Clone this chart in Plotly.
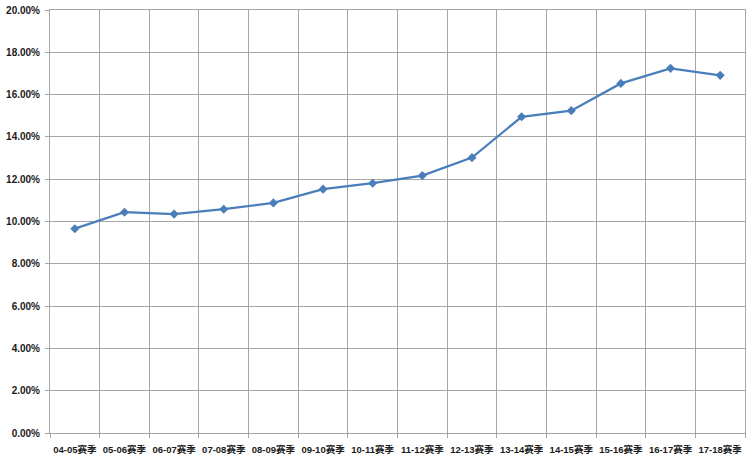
import plotly.graph_objects as go

seasons = ["04-05赛季", "05-06赛季", "06-07赛季", "07-08赛季", "08-09赛季", "09-10赛季",
           "10-11赛季", "11-12赛季", "12-13赛季", "13-14赛季", "14-15赛季", "15-16赛季",
           "16-17赛季", "17-18赛季"]
values = [0.0966, 0.1044, 0.1035, 0.1058, 0.1088, 0.1153, 0.1181, 0.1217, 0.1302,
          0.1495, 0.1524, 0.1653, 0.1724, 0.1691]
y_ticks = [i * 0.02 for i in range(11)]

fig = go.Figure()
fig.add_trace(go.Scatter(
    x=seasons, y=values, mode="lines+markers",
    line=dict(color="#4A7EBB", width=2.25),
    marker=dict(symbol="diamond", size=7, color="#4A7EBB"),
    showlegend=False,
))

grid = "#A6A6A6"
fig.update_layout(
    width=750, height=464,
    margin=dict(l=50, r=5, t=10, b=31),
    paper_bgcolor="white", plot_bgcolor="white",
    font=dict(family="Liberation Sans, Noto Sans CJK SC", color="#1A1A1A"),
    xaxis=dict(
        type="category", tickson="boundaries", range=[-0.5, 13.5],
        showgrid=True, gridcolor=grid, gridwidth=1,
        showline=True, linecolor=grid, linewidth=1, mirror=True,
        ticks="outside", ticklen=4, tickcolor=grid, tickangle=0,
        automargin=False, ticklabelstandoff=8,
        tickfont=dict(size=9.5, family="Liberation Sans, Noto Sans CJK SC", weight="bold"),
    ),
    yaxis=dict(
        range=[0, 0.2], tickvals=y_ticks, tickformat=".2%",
        showgrid=True, gridcolor=grid, gridwidth=1,
        showline=True, linecolor=grid, linewidth=1, mirror=True,
        ticks="outside", ticklen=4, tickcolor=grid,
        automargin=False, ticklabelstandoff=3,
        tickfont=dict(size=10, family="Liberation Sans", weight="bold"),
        zeroline=False,
    ),
)

fig.write_html("out.html", config={"displayModeBar": False},
               post_script="document.body.style.margin='0';")
